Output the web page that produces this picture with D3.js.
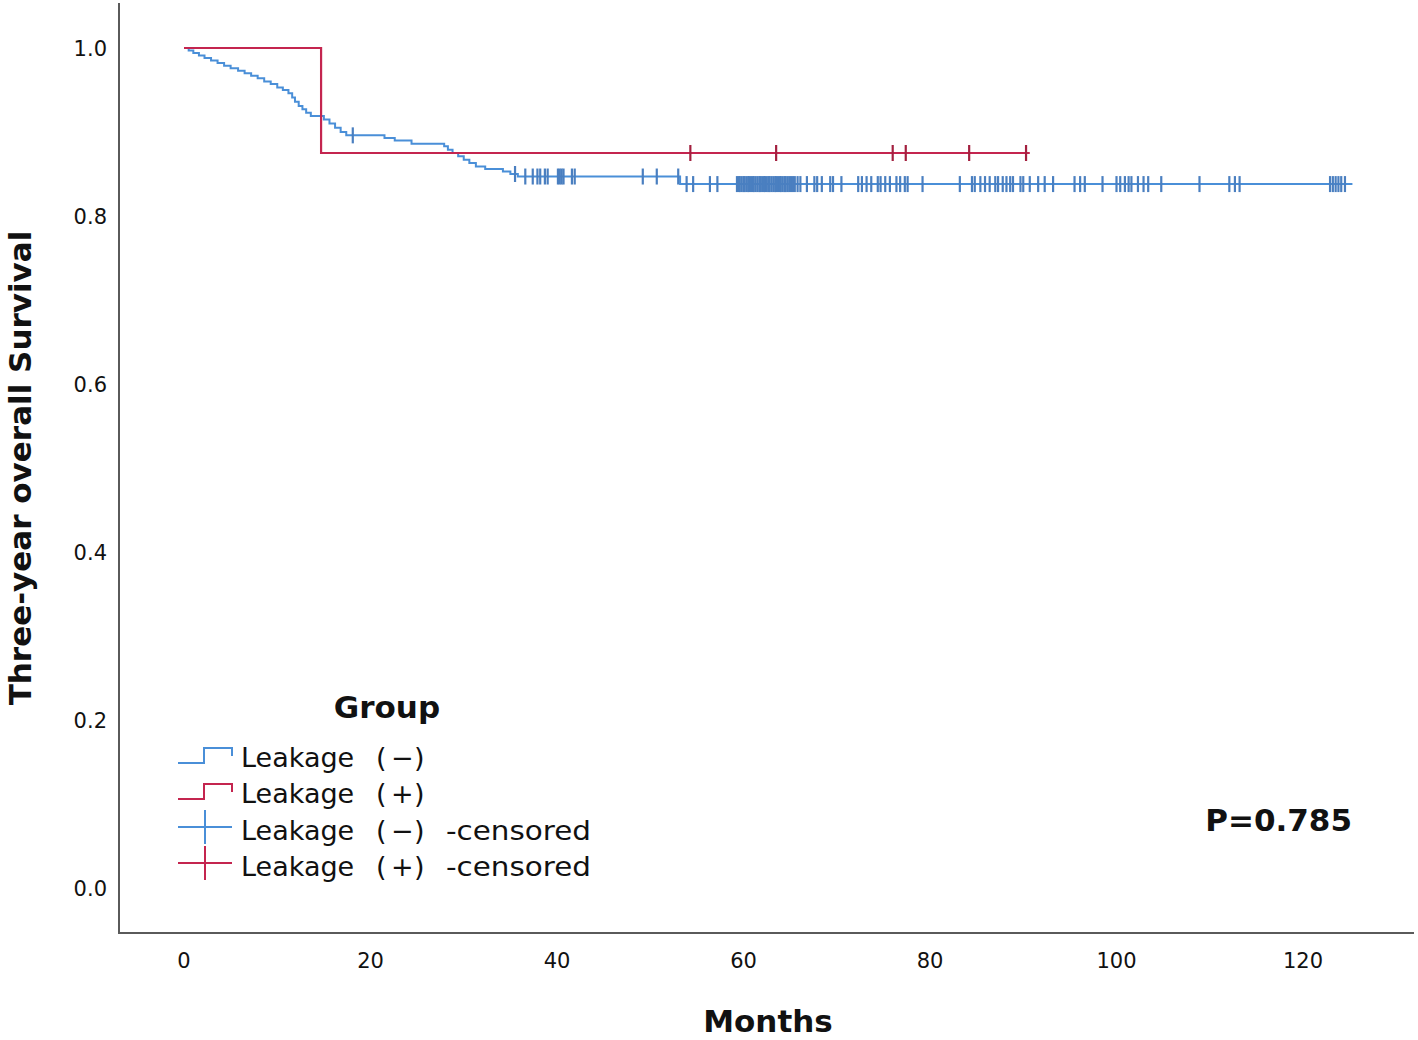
<!DOCTYPE html>
<html>
<head>
<meta charset="utf-8">
<script src="https://cdn.jsdelivr.net/npm/d3@7"></script>
<style>
  html, body { margin: 0; padding: 0; background: #fff; }
  svg { display: block; }
  text { font-family: "DejaVu Sans", sans-serif; fill: #111; }
</style>
</head>
<body>
<svg id="chart" width="1418" height="1040"></svg>
<script>
// ---------------- DATA ----------------
const xTicks = [0, 20, 40, 60, 80, 100, 120];
const yTicks = [0.0, 0.2, 0.4, 0.6, 0.8, 1.0];

// Leakage (-) : survival steps [months, survival after step]
const negTimes = [0, 0.5, 1.0, 1.6, 2.2, 2.9, 3.6, 4.3, 5.0, 5.8, 6.5, 7.2, 7.9, 8.6, 9.3, 10.0, 10.6, 11.2, 11.6, 11.9, 12.3, 12.7, 13.1, 13.6, 15.0, 15.6, 16.2, 16.8, 17.4, 21.5, 22.6, 24.4, 27.9, 28.3, 28.8, 29.4, 30.0, 30.6, 31.3, 32.3, 34.2, 35.0, 35.8, 53.2, 125.3];
const negSurv  = [1.0, 0.997, 0.994, 0.991, 0.988, 0.985, 0.982, 0.979, 0.976, 0.973, 0.970, 0.967, 0.964, 0.960, 0.957, 0.953, 0.950, 0.946, 0.941, 0.936, 0.931, 0.927, 0.923, 0.919, 0.915, 0.910, 0.905, 0.900, 0.896, 0.893, 0.890, 0.886, 0.883, 0.879, 0.875, 0.871, 0.867, 0.863, 0.859, 0.856, 0.853, 0.850, 0.847, 0.838, 0.838];

// Leakage (+)
const posTimes = [0, 14.7, 90.7];
const posSurv  = [1.0, 0.875, 0.875];

// censored times
const negCensored = [18.1, 35.5, 36.6, 37.4, 37.9, 38.2, 38.7, 39.0, 40.1, 40.3, 40.5, 40.7, 41.6, 41.9, 49.2, 50.7, 53.0,
  53.9, 54.6, 56.4, 57.2,
  59.3, 59.5, 59.6, 59.8, 60.0, 60.1, 60.3, 60.5, 60.6, 60.8, 61.0, 61.1, 61.3, 61.5, 61.7, 61.8, 62.0, 62.2, 62.3, 62.5,
  62.7, 62.8, 63.0, 63.2, 63.4, 63.5, 63.7, 63.9, 64.0, 64.2, 64.4, 64.5, 64.7, 64.9, 65.1, 65.3, 65.5, 65.8, 66.1,
  66.8, 67.6, 67.9, 68.4, 69.3, 69.6, 70.5, 72.3, 72.7, 73.2, 73.7, 74.4, 74.7, 75.2, 75.7, 76.4, 76.8, 77.3, 77.6, 79.2,
  83.2, 84.5, 84.8, 85.4, 85.9, 86.4, 87.0, 87.3, 87.8, 88.2, 88.6, 88.9, 89.7, 90.0, 90.7, 91.6, 92.3, 93.2, 95.5,
  96.1, 96.6, 98.5, 100.0, 100.4, 100.9, 101.3, 101.6, 102.3, 102.9, 103.4, 104.8, 108.9, 112.1, 112.7, 113.2,
  122.9, 123.2, 123.5, 123.8, 124.1, 124.5];
const posCensored = [54.3, 63.5, 76.0, 77.4, 84.2, 90.3];

const legendNames = ["Leakage", "Leakage", "Leakage", "Leakage"];
const legendSigns = ["−", "+", "−", "+"];
const legendSuffix = ["", "", "-censored", "-censored"];
const legendTitle = "Group";
const pText = "P=0.785";
const xTitle = "Months";
const yTitle = "Three-year overall Survival";

// ---------------- STYLE ----------------
const blue = "#4a8fd8", blueMark = "#4a7fc0";
const red = "#c4254f", redMark = "#a3203f";

const svg = d3.select("#chart");
svg.append("rect").attr("width", 1418).attr("height", 1040).attr("fill", "#fff");

const x = d3.scaleLinear().domain([0, 120]).range([184, 1303]);
const y = d3.scaleLinear().domain([0, 1]).range([888, 48]);

// Axis frame
const axisColor = "#5a5a5a";
svg.append("path")
  .attr("d", `M119,3 L119,933 L1414,933`)
  .attr("fill", "none").attr("stroke", axisColor).attr("stroke-width", 2);

// tick labels
svg.selectAll(".xt").data(xTicks).join("text")
  .attr("x", d => x(d)).attr("y", 968)
  .attr("text-anchor", "middle").attr("font-size", 21)
  .text(d => d);
svg.selectAll(".yt").data(yTicks).join("text")
  .attr("x", 107).attr("y", d => y(d) + 8)
  .attr("text-anchor", "end").attr("font-size", 21)
  .text(d => d.toFixed(1));

// titles
svg.append("text").attr("x", 768).attr("y", 1032)
  .attr("text-anchor", "middle").attr("font-size", 31).attr("font-weight", "bold")
  .text(xTitle);
svg.append("text").attr("transform", "translate(31,468) rotate(-90)")
  .attr("text-anchor", "middle").attr("font-size", 31).attr("font-weight", "bold")
  .text(yTitle);

// curves
const line = d3.line().x(d => x(d[0])).y(d => y(d[1])).curve(d3.curveStepAfter);
const negData = negTimes.map((t, i) => [t, negSurv[i]]);
const posData = posTimes.map((t, i) => [t, posSurv[i]]);

svg.append("path").attr("d", line(negData)).attr("fill", "none")
  .attr("stroke", blue).attr("stroke-width", 2);
svg.append("path").attr("d", line(posData)).attr("fill", "none")
  .attr("stroke", red).attr("stroke-width", 2.2);

function survAt(times, surv, t) {
  const i = d3.bisectRight(times, t) - 1;
  return surv[Math.max(0, i)];
}

svg.selectAll(".cn").data(negCensored).join("line")
  .attr("x1", d => x(d)).attr("x2", d => x(d))
  .attr("y1", d => y(survAt(negTimes, negSurv, d)) - 8)
  .attr("y2", d => y(survAt(negTimes, negSurv, d)) + 8)
  .attr("stroke", blueMark).attr("stroke-width", 2.2);
svg.selectAll(".cp").data(posCensored).join("line")
  .attr("x1", d => x(d)).attr("x2", d => x(d))
  .attr("y1", d => y(survAt(posTimes, posSurv, d)) - 8)
  .attr("y2", d => y(survAt(posTimes, posSurv, d)) + 8)
  .attr("stroke", redMark).attr("stroke-width", 2.2);

// legend
svg.append("text").attr("x", 387).attr("y", 718)
  .attr("text-anchor", "middle").attr("font-size", 31).attr("font-weight", "bold")
  .text(legendTitle);
const baselines = [767, 803, 840, 876];
const legColors = [blue, red, blue, red];
legendNames.forEach((lab, i) => {
  const b = baselines[i];
  const g = svg.append("g");
  if (i < 2) {
    g.append("path")
      .attr("d", `M178,${b - 4} L204,${b - 4} L204,${b - 19} L232,${b - 19} L232,${b - 11}`)
      .attr("fill", "none").attr("stroke", legColors[i]).attr("stroke-width", 2);
  } else {
    g.append("line").attr("x1", 178).attr("x2", 232).attr("y1", b - 13).attr("y2", b - 13)
      .attr("stroke", legColors[i]).attr("stroke-width", 2);
    g.append("line").attr("x1", 205).attr("x2", 205).attr("y1", b - 30).attr("y2", b + 4)
      .attr("stroke", legColors[i]).attr("stroke-width", 2);
  }
  const t = g.append("text").attr("y", b).attr("font-size", 27);
  t.append("tspan").attr("x", 241).text(lab);
  t.append("tspan").attr("x", 376).text("(");
  t.append("tspan").attr("x", 391).text(legendSigns[i]);
  t.append("tspan").attr("x", 414).text(")");
  if (legendSuffix[i]) {
    g.append("text").attr("x", 446).attr("y", b).attr("font-size", 27)
      .attr("textLength", 145).attr("lengthAdjust", "spacingAndGlyphs")
      .text(legendSuffix[i]);
  }
});

// p-value
svg.append("text").attr("x", 1352).attr("y", 831)
  .attr("text-anchor", "end").attr("font-size", 31).attr("font-weight", "bold")
  .text(pText);
</script>
</body>
</html>
